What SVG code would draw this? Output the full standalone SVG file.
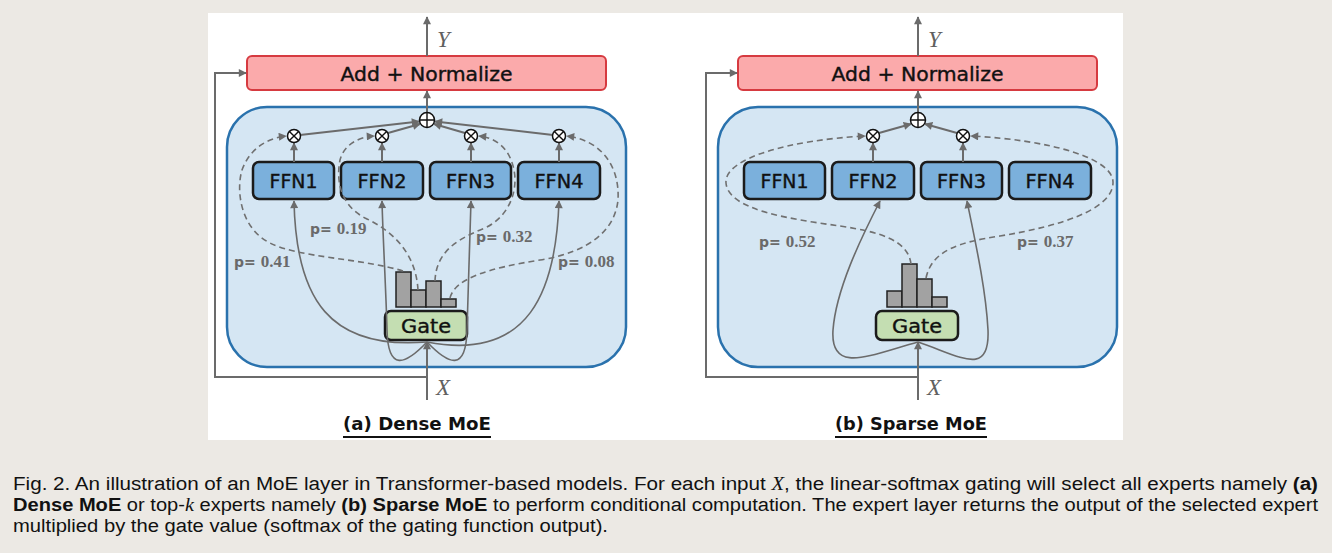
<svg xmlns="http://www.w3.org/2000/svg" width="1332" height="553" viewBox="0 0 1332 553">
<defs>
<marker id="ah" viewBox="0 0 10 10" refX="9" refY="5" markerWidth="9" markerHeight="8" markerUnits="userSpaceOnUse" orient="auto"><path d="M0,0 L10,5 L0,10 z" fill="#6b6b6b"/></marker>
<style>
.panel{fill:#ffffff}
.moe{fill:#d5e6f3;stroke:#2a72ad;stroke-width:2.5}
.add{fill:#fbaaab;stroke:#d63a40;stroke-width:2}
.ffn{fill:#7bb0dc;stroke:#1b1b1b;stroke-width:2.5}
.gate{fill:#c4deb2;stroke:#1b1b1b;stroke-width:2.5}
.bar{fill:#a2a2a2;stroke:#222;stroke-width:1.5}
.lbl{font-family:"DejaVu Sans",sans-serif;fill:#111;stroke:#111;stroke-width:0.4;text-anchor:middle}
.ln{fill:none;stroke:#6b6b6b;stroke-width:2}
.cv{fill:none;stroke:#6b6b6b;stroke-width:1.6}
.ds{fill:none;stroke:#707070;stroke-width:1.6;stroke-dasharray:6 4}
.op{fill:#fff;stroke:#111;stroke-width:1.5}
.opl{stroke:#111;stroke-width:1.4}
.p{font-family:"DejaVu Sans",sans-serif;font-size:14px;font-weight:bold;fill:#6a6a6a}
.pn{font-family:"Liberation Serif",serif;font-size:17px;font-weight:bold}
.var{font-family:"Liberation Serif",serif;font-style:italic;font-size:23px;fill:#606060}
.cap{font-family:"DejaVu Sans",sans-serif;font-weight:bold;font-size:18px;fill:#111;text-anchor:middle}
.fig{font-family:"Liberation Sans",sans-serif;font-size:18px;fill:#111}
</style>
</defs>
<rect x="0" y="0" width="1332" height="553" fill="#ece9e4"/>
<rect class="panel" x="208" y="13" width="915" height="427"/>

<!-- ================= (a) Dense MoE ================= -->
<g id="dense-container"><rect class="moe" x="227" y="107" width="399" height="260" rx="40"/></g>
<g id="dense-add"><rect class="add" x="247" y="56" width="359" height="34" rx="5"/><text class="lbl" x="426.5" y="81" font-size="20" textLength="172" lengthAdjust="spacingAndGlyphs">Add + Normalize</text></g>
<g id="dense-ffn1"><rect class="ffn" x="253" y="162" width="81" height="37" rx="6"/><text class="lbl" x="293.5" y="188" font-size="19" textLength="48" lengthAdjust="spacingAndGlyphs">FFN1</text></g>
<g id="dense-ffn2"><rect class="ffn" x="341" y="162" width="82" height="37" rx="6"/><text class="lbl" x="382" y="188" font-size="19" textLength="49" lengthAdjust="spacingAndGlyphs">FFN2</text></g>
<g id="dense-ffn3"><rect class="ffn" x="430" y="162" width="81" height="37" rx="6"/><text class="lbl" x="470.5" y="188" font-size="19" textLength="49" lengthAdjust="spacingAndGlyphs">FFN3</text></g>
<g id="dense-ffn4"><rect class="ffn" x="518" y="162" width="82" height="37" rx="6"/><text class="lbl" x="559" y="188" font-size="19" textLength="49" lengthAdjust="spacingAndGlyphs">FFN4</text></g>
<g id="dense-gate"><rect class="gate" x="385" y="311" width="82" height="29" rx="6"/><text class="lbl" x="426" y="333" font-size="20" textLength="50" lengthAdjust="spacingAndGlyphs">Gate</text></g>
<g id="dense-hist">
<rect class="bar" x="396" y="272" width="15" height="35"/>
<rect class="bar" x="411" y="290" width="15" height="17"/>
<rect class="bar" x="426" y="281" width="15" height="26"/>
<rect class="bar" x="441" y="299" width="15" height="8"/>
</g>

<g id="dense-connectors">
<path class="ln" d="M427,56 L427,17" marker-end="url(#ah)"/>
<path class="ln" d="M427,112 L427,91" marker-end="url(#ah)"/>
<path class="ln" d="M427,400 L427,342" marker-end="url(#ah)"/>
<path class="ln" d="M427,377 L215,377 L215,73 L246,73" marker-end="url(#ah)"/>
<path class="ln" d="M300,135 L419,121.5" marker-end="url(#ah)"/>
<path class="ln" d="M388,133 L420,124" marker-end="url(#ah)"/>
<path class="ln" d="M465,133 L434,124" marker-end="url(#ah)"/>
<path class="ln" d="M553,135 L435,121.5" marker-end="url(#ah)"/>
<path class="ln" d="M294,162 L294,143" marker-end="url(#ah)"/>
<path class="ln" d="M382,162 L382,143" marker-end="url(#ah)"/>
<path class="ln" d="M471,162 L471,143" marker-end="url(#ah)"/>
<path class="ln" d="M559,162 L559,143" marker-end="url(#ah)"/>
<path class="cv" d="M427,342 C330,350 296,300 294,201" marker-end="url(#ah)"/>
<path class="cv" d="M427,342 C405,365 388,372 387,330 C386,290 383,240 382,201" marker-end="url(#ah)"/>
<path class="cv" d="M427,342 C449,365 466,372 467,330 C468,290 470,240 471,201" marker-end="url(#ah)"/>
<path class="cv" d="M427,342 C530,362 556,290 559,201" marker-end="url(#ah)"/>
<path class="ds" d="M403,271 C360,258 300,258 270,243 C240,228 236,190 242,170 C250,148 268,138 286,136" marker-end="url(#ah)"/>
<path class="ds" d="M418,290 C416,255 395,232 365,218 C340,205 336,180 340,160 C344,145 358,137 374,136" marker-end="url(#ah)"/>
<path class="ds" d="M435,281 C436,250 460,238 485,228 C510,216 518,190 514,170 C510,150 498,138 479,136" marker-end="url(#ah)"/>
<path class="ds" d="M450,298 C455,278 490,268 540,260 C590,252 615,230 618,200 C620,165 600,140 567,136" marker-end="url(#ah)"/>
</g>
<g id="dense-ops">
<circle class="op" cx="427" cy="120" r="7.5"/><path class="opl" d="M419.5,120 H434.5 M427,112.5 V127.5"/>
<circle class="op" cx="294" cy="136" r="6.5"/><path class="opl" d="M289.4,131.4 L298.6,140.6 M298.6,131.4 L289.4,140.6"/>
<circle class="op" cx="382" cy="136" r="6.5"/><path class="opl" d="M377.4,131.4 L386.6,140.6 M386.6,131.4 L377.4,140.6"/>
<circle class="op" cx="471" cy="136" r="6.5"/><path class="opl" d="M466.4,131.4 L475.6,140.6 M475.6,131.4 L466.4,140.6"/>
<circle class="op" cx="559" cy="136" r="6.5"/><path class="opl" d="M554.4,131.4 L563.6,140.6 M563.6,131.4 L554.4,140.6"/>
</g>
<g id="dense-labels">
<text class="p" x="234" y="267">p= <tspan class="pn">0.41</tspan></text>
<text class="p" x="310" y="234">p= <tspan class="pn">0.19</tspan></text>
<text class="p" x="476" y="242">p= <tspan class="pn">0.32</tspan></text>
<text class="p" x="558" y="267">p= <tspan class="pn">0.08</tspan></text>
<text class="var" x="437" y="47">Y</text>
<text class="var" x="436" y="395">X</text>
<text class="cap" x="417" y="430" textLength="148" lengthAdjust="spacingAndGlyphs">(a) Dense MoE</text>
<line x1="343" y1="437" x2="491" y2="437" stroke="#111" stroke-width="2"/>
</g>

<!-- ================= (b) Sparse MoE ================= -->
<g id="sparse-container"><rect class="moe" x="718" y="107" width="399" height="260" rx="40"/></g>
<g id="sparse-add"><rect class="add" x="738" y="56" width="359" height="34" rx="5"/><text class="lbl" x="917.5" y="81" font-size="20" textLength="172" lengthAdjust="spacingAndGlyphs">Add + Normalize</text></g>
<g id="sparse-ffn1"><rect class="ffn" x="744" y="162" width="81" height="37" rx="6"/><text class="lbl" x="784.5" y="188" font-size="19" textLength="48" lengthAdjust="spacingAndGlyphs">FFN1</text></g>
<g id="sparse-ffn2"><rect class="ffn" x="832" y="162" width="82" height="37" rx="6"/><text class="lbl" x="873" y="188" font-size="19" textLength="49" lengthAdjust="spacingAndGlyphs">FFN2</text></g>
<g id="sparse-ffn3"><rect class="ffn" x="921" y="162" width="81" height="37" rx="6"/><text class="lbl" x="961.5" y="188" font-size="19" textLength="49" lengthAdjust="spacingAndGlyphs">FFN3</text></g>
<g id="sparse-ffn4"><rect class="ffn" x="1009" y="162" width="82" height="37" rx="6"/><text class="lbl" x="1050" y="188" font-size="19" textLength="49" lengthAdjust="spacingAndGlyphs">FFN4</text></g>
<g id="sparse-gate"><rect class="gate" x="876" y="311" width="82" height="29" rx="6"/><text class="lbl" x="917" y="333" font-size="20" textLength="50" lengthAdjust="spacingAndGlyphs">Gate</text></g>
<g id="sparse-hist">
<rect class="bar" x="887" y="291" width="15" height="16"/>
<rect class="bar" x="902" y="264" width="15" height="43"/>
<rect class="bar" x="917" y="279" width="15" height="28"/>
<rect class="bar" x="932" y="297" width="15" height="10"/>
</g>

<g id="sparse-connectors">
<path class="ln" d="M918,56 L918,17" marker-end="url(#ah)"/>
<path class="ln" d="M918,112 L918,91" marker-end="url(#ah)"/>
<path class="ln" d="M918,400 L918,342" marker-end="url(#ah)"/>
<path class="ln" d="M918,377 L706,377 L706,73 L737,73" marker-end="url(#ah)"/>
<path class="ln" d="M879,133 L911,124" marker-end="url(#ah)"/>
<path class="ln" d="M957,133 L925,124" marker-end="url(#ah)"/>
<path class="ln" d="M873,162 L873,143" marker-end="url(#ah)"/>
<path class="ln" d="M963,162 L963,143" marker-end="url(#ah)"/>
<path class="cv" d="M918,342 C870,355 830,375 833,330 C836,290 860,240 880,201" marker-end="url(#ah)"/>
<path class="cv" d="M918,342 C960,356 990,378 988,330 C986,290 975,240 967,201" marker-end="url(#ah)"/>
<path class="ds" d="M911,264 C908,240 880,232 840,226 C790,219 728,210 726,183 C724,158 790,140 865,136" marker-end="url(#ah)"/>
<path class="ds" d="M926,278 C932,250 960,242 1000,236 C1060,226 1112,210 1113,183 C1114,158 1050,140 971,136" marker-end="url(#ah)"/>
</g>
<g id="sparse-ops">
<circle class="op" cx="918" cy="120" r="7.5"/><path class="opl" d="M910.5,120 H925.5 M918,112.5 V127.5"/>
<circle class="op" cx="873" cy="136" r="6.5"/><path class="opl" d="M868.4,131.4 L877.6,140.6 M877.6,131.4 L868.4,140.6"/>
<circle class="op" cx="963" cy="136" r="6.5"/><path class="opl" d="M958.4,131.4 L967.6,140.6 M967.6,131.4 L958.4,140.6"/>
</g>
<g id="sparse-labels">
<text class="p" x="759" y="247">p= <tspan class="pn">0.52</tspan></text>
<text class="p" x="1017" y="247">p= <tspan class="pn">0.37</tspan></text>
<text class="var" x="928" y="47">Y</text>
<text class="var" x="927" y="395">X</text>
<text class="cap" x="911" y="430" textLength="152" lengthAdjust="spacingAndGlyphs">(b) Sparse MoE</text>
<line x1="835" y1="437" x2="987" y2="437" stroke="#111" stroke-width="2"/>
</g>

<!-- ================= Figure caption ================= -->
<g id="figure-caption">
<text class="fig" x="13" y="490" textLength="1305" lengthAdjust="spacingAndGlyphs">Fig. 2. An illustration of an MoE layer in Transformer-based models. For each input <tspan font-family="Liberation Serif, serif" font-style="italic">X</tspan>, the linear-softmax gating will select all experts namely <tspan font-weight="bold">(a)</tspan></text>
<text class="fig" x="13" y="511" textLength="1305" lengthAdjust="spacingAndGlyphs"><tspan font-weight="bold">Dense MoE</tspan> or top-<tspan font-family="Liberation Serif, serif" font-style="italic">k</tspan> experts namely <tspan font-weight="bold">(b) Sparse MoE</tspan> to perform conditional computation. The expert layer returns the output of the selected expert</text>
<text class="fig" x="13" y="532" textLength="595" lengthAdjust="spacingAndGlyphs">multiplied by the gate value (softmax of the gating function output).</text>
</g>
</svg>
